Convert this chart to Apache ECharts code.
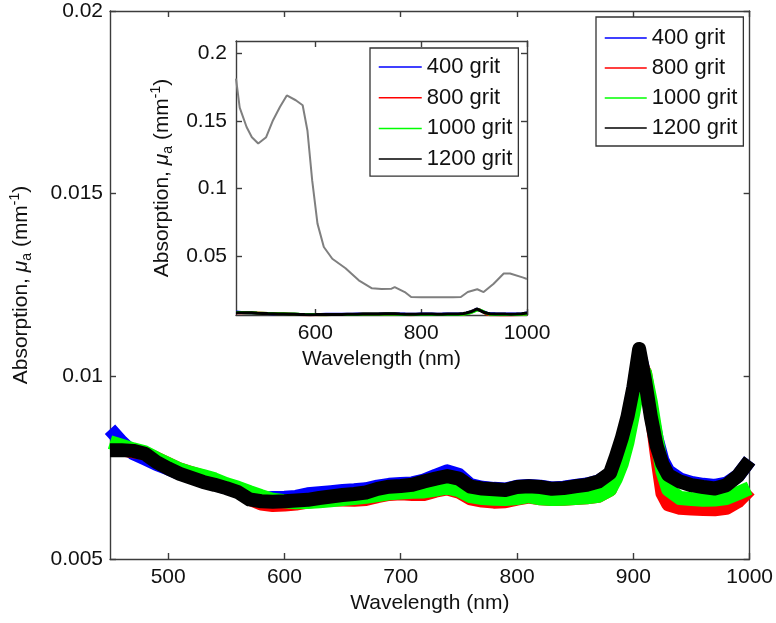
<!DOCTYPE html>
<html>
<head>
<meta charset="utf-8">
<script src="https://cdn.jsdelivr.net/npm/echarts@6/dist/echarts.min.js"></script>
<style>
html,body{margin:0;padding:0;background:#fff;}
#chart{width:776px;height:623px;}
</style>
</head>
<body>
<div id="chart"></div>
<script>
// Wavelength samples (nm) for the grit measurements
const wavelength = [450,460,470,480,490,500,510,520,530,540,550,560,570,580,590,600,610,620,630,640,650,660,670,680,690,700,710,720,730,740,750,760,770,780,790,800,810,820,830,840,850,860,870,880,885,890,895,900,905,910,915,920,925,930,940,950,960,970,980,990,1000];

const grit400 = [0.00855,0.0082,0.0079,0.00775,0.0076,0.00748,0.00735,0.00724,0.00714,0.00705,0.00696,0.00685,0.00667,0.00665,0.00667,0.00668,0.0067,0.00677,0.0068,0.00683,0.00686,0.00688,0.00691,0.00698,0.00703,0.00705,0.00707,0.00715,0.00728,0.0074,0.0073,0.00702,0.00695,0.00692,0.0069,0.00698,0.007,0.00698,0.00693,0.00695,0.007,0.00704,0.00712,0.00732,0.0077,0.0082,0.0088,0.0096,0.0106,0.0100,0.0091,0.0083,0.0077,0.0074,0.00718,0.00708,0.00703,0.007,0.00706,0.00728,0.0077];

const grit800 = [0.0080,0.0080,0.00795,0.0079,0.00775,0.0076,0.00745,0.00735,0.00725,0.00714,0.00702,0.00688,0.00665,0.00652,0.00648,0.00649,0.00652,0.00657,0.0066,0.00663,0.00663,0.00662,0.00664,0.00672,0.00678,0.0068,0.00678,0.00678,0.00687,0.00693,0.00684,0.00666,0.0066,0.00657,0.00658,0.00665,0.00671,0.00666,0.00664,0.00665,0.00667,0.00669,0.00673,0.0069,0.0073,0.0078,0.0085,0.0094,0.0104,0.0101,0.0091,0.0079,0.0068,0.0065,0.0064,0.00638,0.00637,0.00636,0.0064,0.00658,0.0069];

const grit1000 = [0.0082,0.0081,0.0080,0.00792,0.00775,0.0076,0.00745,0.00735,0.00727,0.00718,0.00705,0.00695,0.00683,0.00672,0.00662,0.00658,0.00655,0.00656,0.00658,0.00661,0.00664,0.00667,0.0067,0.00675,0.0068,0.00682,0.00684,0.00685,0.0069,0.00696,0.00688,0.00672,0.00667,0.00665,0.00664,0.00667,0.00672,0.00666,0.00664,0.00665,0.00667,0.00669,0.00673,0.0069,0.0072,0.0076,0.0082,0.0090,0.0099,0.0101,0.0093,0.0083,0.0074,0.0069,0.00667,0.00664,0.00662,0.00663,0.00667,0.0068,0.00694];

const grit1200 = [0.00798,0.00798,0.00796,0.00788,0.00765,0.00748,0.00733,0.00722,0.00711,0.00703,0.00694,0.00683,0.00663,0.00658,0.00657,0.00658,0.0066,0.00662,0.00667,0.00671,0.00675,0.00678,0.00682,0.00692,0.00698,0.007,0.00703,0.00712,0.0072,0.00727,0.0072,0.00698,0.00693,0.00691,0.00689,0.00697,0.00699,0.00697,0.00692,0.00694,0.00699,0.00703,0.00712,0.00735,0.0078,0.0083,0.0089,0.0097,0.01075,0.0099,0.0089,0.0081,0.0076,0.0073,0.00712,0.00702,0.00697,0.00693,0.00702,0.00728,0.0077];

// Gray reference curve in the inset
const refWavelength = [450,457,470,480,492,507,520,533,546,563,576,585,594,604,616,632,657,682,707,725,744,750,769,781,800,830,860,875,888,906,918,937,956,968,993,1000];
const refAbs = [0.1815,0.160,0.1456,0.138,0.1333,0.138,0.1506,0.1604,0.169,0.1654,0.1617,0.143,0.106,0.074,0.0567,0.048,0.0409,0.032,0.0261,0.0255,0.0258,0.027,0.0233,0.0196,0.0194,0.0194,0.0194,0.0196,0.0233,0.0254,0.0233,0.0295,0.037,0.037,0.034,0.033];

const gritNames = ['400 grit','800 grit','1000 grit','1200 grit'];
const gritColors = ['#0000ff','#ff0000','#00ff00','#000000'];
const gritSeries = [grit400, grit800, grit1000, grit1200];

const mainXTicks = [500,600,700,800,900,1000];
const mainYTicks = [0.005,0.01,0.015,0.02];
const insetXTicks = [600,800,1000];
const insetYTicks = [0.05,0.1,0.15,0.2];

const FONT = "'Liberation Sans', Arial, sans-serif";
const AX = '#3c3c3c';
const TXT = '#111';

function pairs(xs, ys){ return xs.map((x,i)=>[x, ys[i]]); }

const yNameRich = {
  t:{fontSize:21,fontFamily:FONT,color:TXT,lineHeight:26},
  mu:{fontSize:21,fontFamily:FONT,color:TXT,fontStyle:'italic',lineHeight:26},
  sub:{fontSize:14,fontFamily:FONT,color:TXT,lineHeight:14,verticalAlign:'bottom'},
  sup:{fontSize:14,fontFamily:FONT,color:TXT,lineHeight:14,verticalAlign:'top'}
};
const yName = '{t|Absorption, }{mu|μ}{sub|a}{t| (mm}{sup|-1}{t|)}';

function plain(v){ return String(v); }

function xAxisDef(grid, ticks, pos, showLabel, name, nameGap){
  return {
    type:'value', gridIndex:grid, position:pos, min:450, max:1000,
    axisLine:{show:true,onZero:false,lineStyle:{color:AX,width:1.4}},
    axisTick:{show:true,inside:true,length:6,customValues:ticks,lineStyle:{color:AX,width:1.4}},
    axisLabel:{show:showLabel,customValues:ticks,formatter:plain,margin:8,fontSize:21,fontFamily:FONT,color:TXT},
    splitLine:{show:false},
    name: name || '', nameLocation:'middle', nameGap: nameGap || 30,
    nameTextStyle:{fontSize:21,fontFamily:FONT,color:TXT}
  };
}
function yAxisDef(grid, min, max, ticks, pos, showLabel, withName, nameGap, margin){
  return {
    type:'value', gridIndex:grid, position:pos, min:min, max:max,
    axisLine:{show:true,onZero:false,lineStyle:{color:AX,width:1.4}},
    axisTick:{show:true,inside:true,length:6,customValues:ticks,lineStyle:{color:AX,width:1.4}},
    axisLabel:{show:showLabel,customValues:ticks,formatter:plain,margin:margin||7,fontSize:21,fontFamily:FONT,color:TXT},
    splitLine:{show:false},
    name: withName ? yName : '', nameLocation:'middle', nameGap: nameGap || 50,
    nameTextStyle:{fontSize:21,fontFamily:FONT,color:TXT,rich:yNameRich}
  };
}

const series = [];
gritSeries.forEach((vals, i) => {
  series.push({
    name: gritNames[i], type:'line', xAxisIndex:0, yAxisIndex:0,
    data: pairs(wavelength, vals), symbol:'none', smooth:false,
    lineStyle:{color:gritColors[i], width:14, join:'round', cap:'butt'},
    itemStyle:{color:gritColors[i]}, clip:true, z:2+i
  });
});
gritSeries.forEach((vals, i) => {
  series.push({
    name: gritNames[i], type:'line', xAxisIndex:2, yAxisIndex:2,
    data: pairs(wavelength, vals), symbol:'none',
    lineStyle:{color:gritColors[i], width:3}, itemStyle:{color:gritColors[i]}, clip:true, z:2+i
  });
});
series.push({
  name:'reference', type:'line', xAxisIndex:2, yAxisIndex:2,
  data: pairs(refWavelength, refAbs), symbol:'none',
  lineStyle:{color:'#7f7f7f', width:2}, itemStyle:{color:'#7f7f7f'}, z:1
});

const legendCommon = {
  data: gritNames, orient:'vertical',
  backgroundColor:'#fff', borderColor:'#333', borderWidth:1.3, borderRadius:0,
  itemWidth:42, itemHeight:20, textStyle:{fontSize:22,fontFamily:FONT,color:TXT,lineHeight:20},
  lineStyle:{width:1.5}, itemStyle:{opacity:0, borderWidth:0}, selectedMode:false
};

const option = {
  animation:false,
  backgroundColor:'#fff',
  grid:[
    {left:110, right:26, top:11, bottom:64},
    {left:236, right:249, top:41, bottom:308, show:true, backgroundColor:'#fff', borderWidth:0}
  ],
  xAxis:[
    xAxisDef(0, mainXTicks, 'bottom', true, 'Wavelength (nm)', 33),
    xAxisDef(0, mainXTicks, 'top', false),
    xAxisDef(1, insetXTicks, 'bottom', true, 'Wavelength (nm)', 34),
    xAxisDef(1, insetXTicks, 'top', false)
  ],
  yAxis:[
    yAxisDef(0, 0.005, 0.02, mainYTicks, 'left', true, true, 76, 7),
    yAxisDef(0, 0.005, 0.02, mainYTicks, 'right', false, false),
    yAxisDef(1, 0.0063, 0.2093, insetYTicks, 'left', true, true, 61, 9),
    yAxisDef(1, 0.0063, 0.2093, insetYTicks, 'right', false, false)
  ],
  legend:[
    Object.assign({}, legendCommon, {left:596, top:17, padding:[10,6,7,8], itemGap:8}),
    Object.assign({}, legendCommon, {left:370, top:48, padding:[8,6,6,8], itemGap:8.7, itemWidth:43})
  ],
  series: series
};

const chart = echarts.init(document.getElementById('chart'), null, {renderer:'canvas'});
chart.setOption(option);
</script>
</body>
</html>
